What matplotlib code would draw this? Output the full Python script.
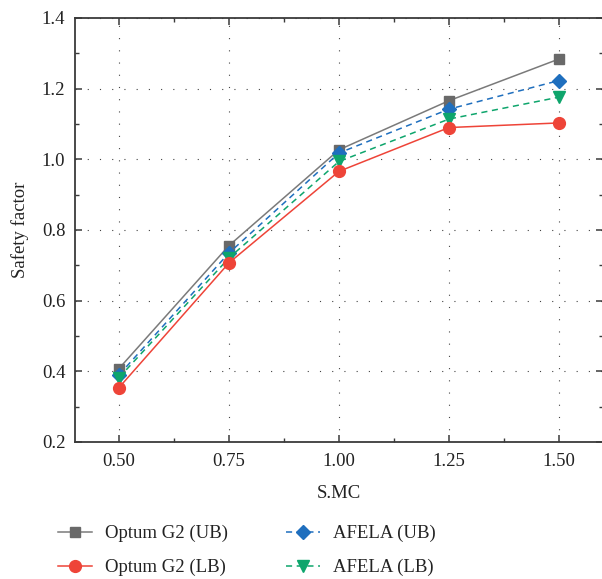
import matplotlib
matplotlib.use("Agg")
import matplotlib.pyplot as plt
from matplotlib.ticker import MultipleLocator

plt.rcParams['font.family'] = ['Liberation Serif', 'DejaVu Serif']
plt.rcParams['mathtext.fontset'] = 'stix'

# Strength reduction factor (S.MC) and computed safety factors
smc = [0.50, 0.75, 1.00, 1.25, 1.50]
optum_ub = [0.408, 0.756, 1.027, 1.166, 1.284]
optum_lb = [0.354, 0.707, 0.966, 1.090, 1.103]
afela_ub = [0.390, 0.735, 1.018, 1.142, 1.223]
afela_lb = [0.382, 0.721, 0.994, 1.114, 1.176]

x_ticks = [0.50, 0.75, 1.00, 1.25, 1.50]
x_tick_labels = ["0.50", "0.75", "1.00", "1.25", "1.50"]
y_ticks = [0.2, 0.4, 0.6, 0.8, 1.0, 1.2, 1.4]
y_tick_labels = ["0.2", "0.4", "0.6", "0.8", "1.0", "1.2", "1.4"]

fig = plt.figure(figsize=(6.02, 5.79), dpi=100)
W, H = 602, 579
left, right, top, bottom = 75, 603, 18, 442
ax = fig.add_axes([left / W, 1 - bottom / H, (right - left) / W, (bottom - top) / H])

spine_col = '#3a3a3a'
ax.plot(smc, optum_ub, '-', color='#7a7a7a', lw=1.1, marker='s', ms=7,
        mfc='#696969', mec='#696969', label='Optum G2 (UB)', zorder=3)
ax.plot(smc, optum_lb, '-', color='#ee4438', lw=1.1, marker='o', ms=8.5,
        mfc='#ee4438', mec='#ee4438', label='Optum G2 (LB)', zorder=4)
ax.plot(smc, afela_ub, '--', color='#1f6fbe', lw=1.1, marker='D', ms=7.5,
        mfc='#1f6fbe', mec='#1f6fbe', label='AFELA (UB)', dashes=(4, 3), zorder=3)
ax.plot(smc, afela_lb, '--', color='#0ea56c', lw=1.1, marker='v', ms=9,
        mfc='#0ea56c', mec='#0ea56c', label='AFELA (LB)', dashes=(4, 3), zorder=3)

ax.set_xlim(0.4, 1.6)
ax.set_ylim(0.2, 1.4)
ax.set_xticks(x_ticks)
ax.set_xticklabels(x_tick_labels)
ax.set_yticks(y_ticks)
ax.set_yticklabels(y_tick_labels)
ax.xaxis.set_minor_locator(MultipleLocator(0.125))
ax.yaxis.set_minor_locator(MultipleLocator(0.1))

ax.grid(True, which='major', color='#444444', lw=0.8, linestyle=(0, (1, 10)))
ax.set_axisbelow(True)

for s in ax.spines.values():
    s.set_color(spine_col)
    s.set_linewidth(1.3)

ax.tick_params(which='both', direction='in', top=True, right=True,
               color=spine_col, labelsize=13.5, labelcolor='#222222')
ax.tick_params(which='major', length=5, width=1.1)
ax.tick_params(axis='x', which='major', pad=8)
ax.tick_params(axis='y', which='major', pad=7)
ax.tick_params(which='minor', length=3, width=1.0)

ax.set_xlabel('S.MC', fontsize=13.5, color='#222222', labelpad=11)
ax.set_ylabel('Safety factor', fontsize=13.5, color='#222222', labelpad=9)

handles, labels = ax.get_legend_handles_labels()
leg = fig.legend(handles, labels, ncol=2, loc='upper left',
                 bbox_to_anchor=(58 / W, 1 - 525 / H), frameon=False,
                 fontsize=13.5, handlelength=1.8, handletextpad=0.7,
                 columnspacing=3.1, labelspacing=0.9, borderaxespad=0,
                 borderpad=0)
for t in leg.get_texts():
    t.set_color('#222222')

fig.savefig('out.png', dpi=100)
